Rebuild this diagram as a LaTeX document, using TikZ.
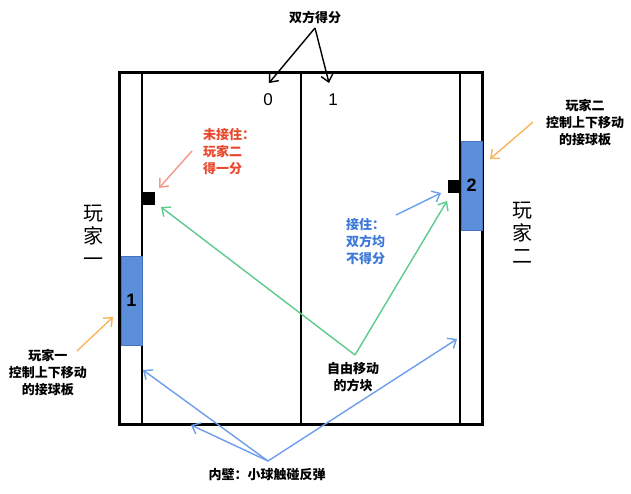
\documentclass[tikz,border=0pt]{standalone}
\usepackage{fontspec}
\setmainfont{Liberation Sans}
\newfontfamily\cjk{Noto Sans CJK SC}
\usetikzlibrary{arrows.meta}
\definecolor{padblue}{RGB}{91,142,219}
\definecolor{padedge}{RGB}{70,115,190}
\definecolor{orarr}{RGB}{250,180,90}
\definecolor{redtxt}{RGB}{232,72,43}
\definecolor{redarr}{RGB}{244,150,135}
\definecolor{grnarr}{RGB}{92,203,140}
\definecolor{bluetxt}{RGB}{60,120,216}
\definecolor{bluearr}{RGB}{109,158,235}
\tikzset{
  lab/.style={font=\cjk\bfseries\fontsize{13}{17}\selectfont, align=center, inner sep=0pt},
  vname/.style={font=\cjk\fontsize{20}{23}\selectfont, align=center, inner sep=0pt},
  arr/.style={-{Straight Barb[length=7pt,width=12pt]}, line width=1.4pt},
  paddle/.style={fill=padblue, draw=padedge, line width=0.8pt, minimum width=21pt, minimum height=89pt, inner sep=0pt, font=\bfseries\fontsize{18}{18}\selectfont},
  ball/.style={fill=black, minimum size=13pt, inner sep=0pt},
  score/.style={font=\fontsize{17}{17}\selectfont, inner sep=0pt}
}
\begin{document}
\begin{tikzpicture}[x=1pt,y=-1pt]
\useasboundingbox (0,0) rectangle (631,493);
% court
\draw[line width=1.5pt] (142,72) -- (142,424);
\draw[line width=1.5pt] (301,72) -- (301,424);
\draw[line width=1.5pt] (460,72) -- (460,424);
\draw[line width=3pt] (119,72) rectangle (482,424);
% paddles and balls
\node[paddle] (p1) at (131.5,300.5) {1};
\node[paddle] (p2) at (471.5,185.5) {2};
\node[ball] (ballL) at (148.5,198.5) {};
\node[ball] (ballR) at (454,186) {};
% scores
\node[score] (s0) at (268,100) {0};
\node[score] (s1) at (333,100) {1};
\node[lab] (stitle) at (315,17) {双方得分};
\coordinate (sapex) at (315,28);
\coordinate (s0t) at (269,83);
\coordinate (s1t) at (329,83);
\draw[arr] (sapex) -- (s0t);
\draw[arr] (sapex) -- (s1t);
% player names
\node[vname] (n1) at (93,236) {玩\\家\\一};
\node[vname] (n2) at (522,233) {玩\\家\\二};
% player control labels
\node[lab] (c1) at (48,373) {玩家一\\控制上下移动\\的接球板};
\node[lab] (c2) at (585,123) {玩家二\\控制上下移动\\的接球板};
\coordinate (c1s) at (77,351);
\coordinate (c1e) at (113,317);
\coordinate (c2s) at (533,122);
\coordinate (c2e) at (490,159);
\draw[arr, orarr] (c1s) -- (c1e);
\draw[arr, orarr] (c2s) -- (c2e);
% miss label
\node[lab, text=redtxt, align=left, anchor=west] (miss) at (203,152) {未接住：\\玩家二\\得一分};
\coordinate (ms) at (192,151);
\coordinate (me) at (159,188);
\draw[arr, redarr] (ms) -- (me);
% catch label
\node[lab, text=bluetxt, align=left, anchor=west] (catch) at (346,242) {接住：\\双方均\\不得分};
\coordinate (cs) at (396,215);
\coordinate (ce) at (441,193);
\draw[arr, bluearr] (cs) -- (ce);
% free moving block
\node[lab] (free) at (353,377) {自由移动\\的方块};
\coordinate (fapex) at (355,355);
\coordinate (fL) at (161,207);
\coordinate (fR) at (447,201);
\draw[arr, grnarr] (fapex) -- (fL);
\draw[arr, grnarr] (fapex) -- (fR);
% inner walls
\node[lab] (wall) at (267,475) {内壁：小球触碰反弹};
\coordinate (wapex) at (268,461);
\coordinate (w1) at (143,370);
\coordinate (w2) at (191,425);
\coordinate (w3) at (457,339);
\draw[arr, bluearr] (wapex) -- (w1);
\draw[arr, bluearr] (wapex) -- (w2);
\draw[arr, bluearr] (wapex) -- (w3);
\end{tikzpicture}
\end{document}
